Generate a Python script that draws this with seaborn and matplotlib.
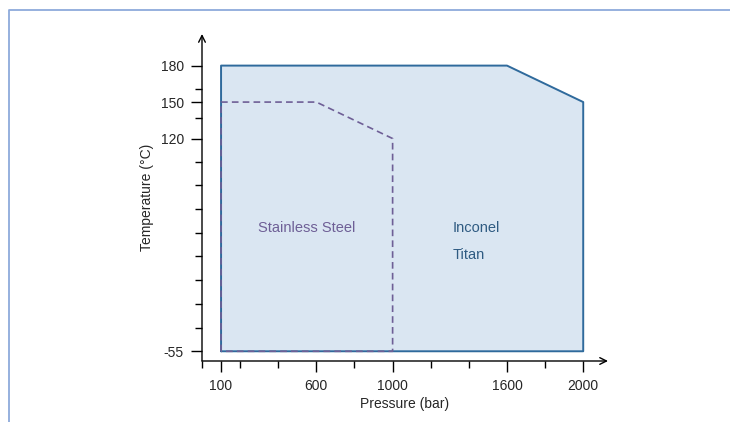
import numpy as np
import pandas as pd
import matplotlib.pyplot as plt
import seaborn as sns
from matplotlib.lines import Line2D

# operating envelopes (pressure in bar, temperature in °C)
inconel_p = [100, 100, 1600, 2000, 2000, 100]
inconel_t = [-55, 180, 180, 150, -55, -55]
steel_p = [100, 100, 600, 1000, 1000, 100]
steel_t = [-55, 150, 150, 120, -55, -55]

x_major = [100, 600, 1000, 1600, 2000]
x_minor = [0, 200, 400, 800, 1200, 1400, 1800]
y_major = [-55, 120, 150, 180]
y_minor = [-35.5, -16, 3.5, 23, 42.5, 62, 81.5, 101, 137, 161]

sns.set_theme(style="white")
plt.rcParams["font.family"] = ["Liberation Sans", "DejaVu Sans"]
plt.rcParams["axes.unicode_minus"] = False

fig = plt.figure(figsize=(7.3, 4.22), dpi=100)
ax = fig.add_axes([202 / 730, 61 / 422, 406 / 730, 327 / 422])

blue_edge = "#2f6a9c"
blue_fill = "#dae6f2"
purple = "#6e5f96"

inconel = pd.DataFrame({"p": inconel_p, "t": inconel_t})
steel = pd.DataFrame({"p": steel_p, "t": steel_t})

ax.fill(inconel["p"], inconel["t"], color=blue_fill, zorder=1)
sns.lineplot(data=inconel, x="p", y="t", sort=False, estimator=None,
             color=blue_edge, lw=1.4, ax=ax, zorder=2)
sns.lineplot(data=steel, x="p", y="t", sort=False, estimator=None,
             color=purple, lw=1.2, linestyle=(0, (4, 2.5)), ax=ax, zorder=3)

ax.text(550, 46, "Stainless Steel", color=purple, fontsize=10.5,
        ha="center", va="center")
ax.text(1315, 46, "Inconel", color="#2f5b82", fontsize=10.5, ha="left", va="center")
ax.text(1315, 24, "Titan", color="#2f5b82", fontsize=10.5, ha="left", va="center")

ax.set_xlim(0, 2130)
ax.set_ylim(-63, 206)

for s in ax.spines.values():
    s.set_visible(False)

# axes with open arrowheads
ax.annotate("", xy=(1, 0), xycoords="axes fraction", xytext=(0, 0),
            arrowprops=dict(arrowstyle="->", color="black", lw=1,
                            shrinkA=0, shrinkB=0, mutation_scale=12))
ax.annotate("", xy=(0, 1), xycoords="axes fraction", xytext=(0, 0),
            arrowprops=dict(arrowstyle="->", color="black", lw=1,
                            shrinkA=0, shrinkB=0, mutation_scale=12))

ax.set_xticks(x_major)
ax.set_xticks(x_minor, minor=True)
ax.set_yticks(y_major)
ax.set_yticks(y_minor, minor=True)
ax.tick_params(which="major", length=8, width=1, color="black",
               labelsize=10, pad=5, bottom=True, left=True)
ax.tick_params(which="minor", length=5, width=1, color="black",
               bottom=True, left=True)

ax.set_xlabel("Pressure (bar)", fontsize=10, labelpad=3)
ax.set_ylabel("Temperature (°C)", fontsize=10, labelpad=5)

# light blue page frame
fig.add_artist(Line2D([9 / 730, 9 / 730, 1.0], [0.0, 1 - 10 / 422, 1 - 10 / 422],
                      transform=fig.transFigure, color="#8eaadb", lw=1.3))

fig.savefig("out.png", dpi=100)
